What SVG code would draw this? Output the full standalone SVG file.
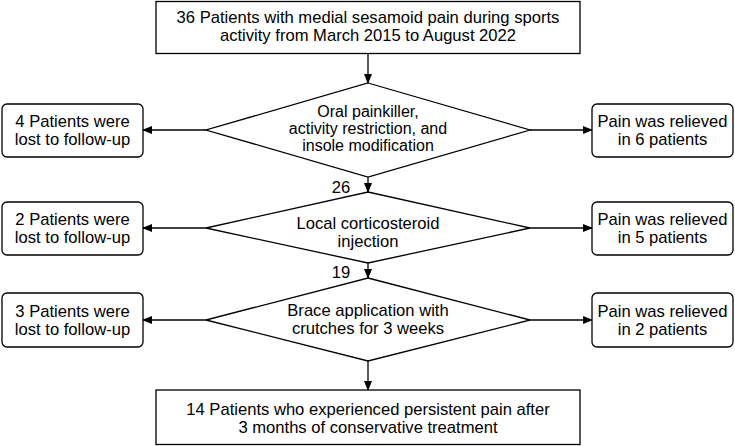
<svg xmlns="http://www.w3.org/2000/svg" width="735" height="446" viewBox="0 0 735 446">
<defs>
<marker id="ah" markerWidth="10" markerHeight="8" refX="9" refY="4" orient="auto" markerUnits="userSpaceOnUse">
<path d="M0,0 L10,4 L0,8 Z" fill="#000"/>
</marker>
</defs>
<style>
.box{fill:#fff;stroke:#000;stroke-width:1.3}
.dia{fill:#fff;stroke:#000;stroke-width:1.3}
.t{font-family:"Liberation Sans",Arial,sans-serif;font-size:16.6px;fill:#000;text-anchor:middle;dominant-baseline:central}
.s{font-size:16px}
.c{stroke:#000;stroke-width:1.3;fill:none;marker-end:url(#ah)}
</style>
<rect width="735" height="446" fill="#fff"/>
<g id="connectors">
<line class="c" x1="368" y1="54" x2="368" y2="83"/>
<line class="c" x1="206" y1="130" x2="143" y2="130"/>
<line class="c" x1="530" y1="130" x2="592" y2="130"/>
<line class="c" x1="368" y1="177" x2="368" y2="192"/>
<line class="c" x1="206" y1="228" x2="143" y2="228"/>
<line class="c" x1="530" y1="228" x2="592" y2="228"/>
<line class="c" x1="368" y1="263" x2="368" y2="278"/>
<line class="c" x1="206" y1="320" x2="143" y2="320"/>
<line class="c" x1="530" y1="320" x2="592" y2="320"/>
<line class="c" x1="368" y1="361" x2="368" y2="390"/>
<text class="t" x="341" y="187">26</text>
<text class="t" x="341" y="272">19</text>
</g>
<g id="start">
<rect class="box" x="156" y="1.5" width="424" height="52"/>
<text class="t" x="368" y="17">36 Patients with medial sesamoid pain during sports</text>
<text class="t" x="368" y="35">activity from March 2015 to August 2022</text>
</g>
<g id="step1">
<polygon class="dia" points="368,83 530,130 368,177 206,130"/>
<text class="t s" x="368" y="111.5">Oral painkiller,</text>
<text class="t s" x="368" y="128.5">activity restriction, and</text>
<text class="t s" x="368" y="145.5">insole modification</text>
</g>
<g id="lost1">
<rect class="box" x="2" y="104" width="141" height="53" rx="5"/>
<text class="t" x="72.5" y="121">4 Patients were</text>
<text class="t" x="72.5" y="139.5">lost to follow-up</text>
</g>
<g id="relief1">
<rect class="box" x="592" y="104" width="141" height="53" rx="5"/>
<text class="t" x="662.5" y="121">Pain was relieved</text>
<text class="t" x="662.5" y="139.5">in 6 patients</text>
</g>
<g id="step2">
<polygon class="dia" points="368,192 530,228 368,263 206,228"/>
<text class="t" x="368" y="223">Local corticosteroid</text>
<text class="t" x="368" y="241.5">injection</text>
</g>
<g id="lost2">
<rect class="box" x="2" y="202" width="141" height="53" rx="5"/>
<text class="t" x="72.5" y="219">2 Patients were</text>
<text class="t" x="72.5" y="237.5">lost to follow-up</text>
</g>
<g id="relief2">
<rect class="box" x="592" y="202" width="141" height="53" rx="5"/>
<text class="t" x="662.5" y="219">Pain was relieved</text>
<text class="t" x="662.5" y="237.5">in 5 patients</text>
</g>
<g id="step3">
<polygon class="dia" points="368,278 530,320 368,361 206,320"/>
<text class="t" x="368" y="310">Brace application with</text>
<text class="t" x="368" y="328">crutches for 3 weeks</text>
</g>
<g id="lost3">
<rect class="box" x="2" y="293" width="141" height="54" rx="5"/>
<text class="t" x="72.5" y="311">3 Patients were</text>
<text class="t" x="72.5" y="329.5">lost to follow-up</text>
</g>
<g id="relief3">
<rect class="box" x="592" y="293" width="141" height="54" rx="5"/>
<text class="t" x="662.5" y="311">Pain was relieved</text>
<text class="t" x="662.5" y="329.5">in 2 patients</text>
</g>
<g id="end">
<rect class="box" x="156" y="390" width="424" height="54.5"/>
<text class="t" x="368" y="409">14 Patients who experienced persistent pain after</text>
<text class="t" x="368" y="427.5">3 months of conservative treatment</text>
</g>
</svg>
